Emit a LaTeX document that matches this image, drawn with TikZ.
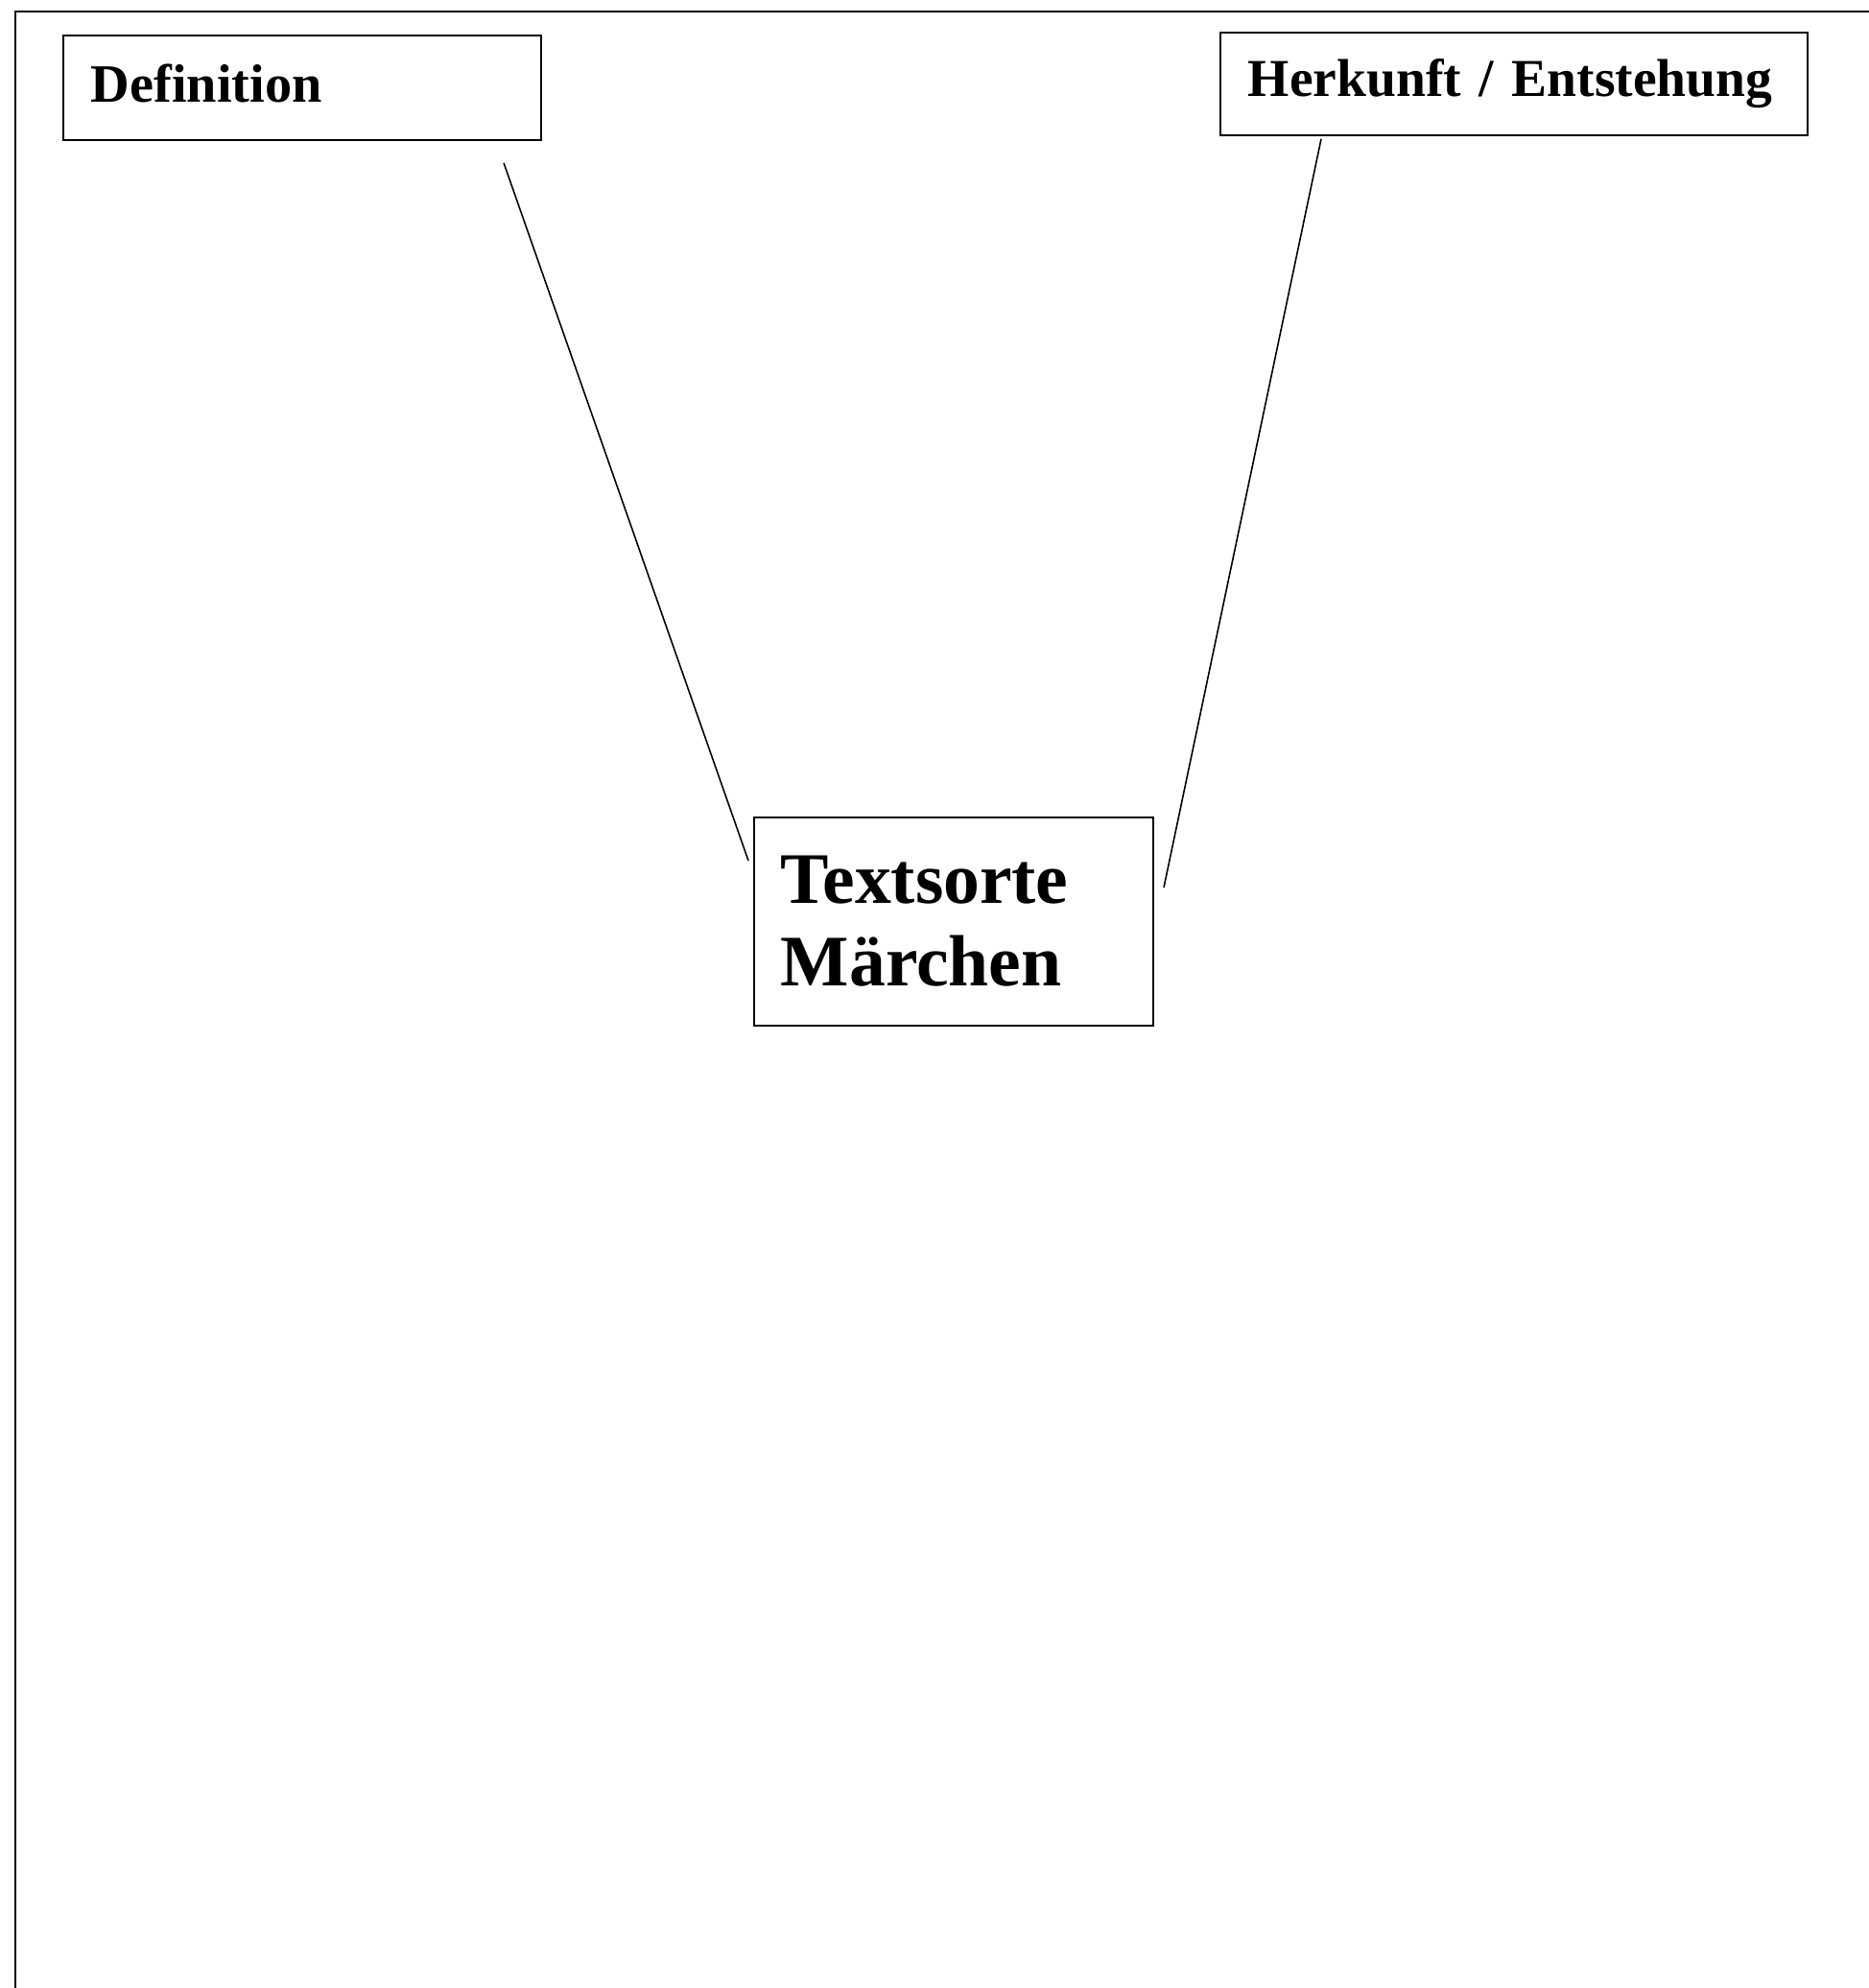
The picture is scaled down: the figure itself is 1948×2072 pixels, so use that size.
\documentclass[tikz,border=0pt]{standalone}
\usepackage{fontspec}
\setmainfont{Liberation Serif}
\usetikzlibrary{calc}
\begin{document}
\begin{tikzpicture}[
    x=0.01cm, y=-0.01cm,
    topic/.style={draw, line width=0.5pt, anchor=north west, align=left,
                  inner xsep=0.29cm, inner ysep=0pt,
                  font=\bfseries\fontsize{16}{19}\selectfont},
    mainbox/.style={draw, line width=0.5pt, anchor=north west, align=left,
                  inner xsep=0.28cm, inner ysep=0pt,
                  font=\bfseries\fontsize{21.5}{24.5}\selectfont},
    link/.style={line width=0.45pt}
]

\useasboundingbox (0,0) rectangle (1948,2072);
% page frame (only left and top edge visible)
\draw[line width=0.7pt] (16,2072) -- (16,12) -- (1948,12);

\node[topic, text width=4.4cm, minimum height=1.09cm, text depth=2.5pt] (def) at (65,36) {Definition};
\node[topic, text width=5.54cm, minimum height=1.07cm,
      font=\bfseries\fontsize{15.8}{19}\selectfont] (herk) at (1271,33) {Herkunft / Entstehung};
\node[mainbox, text width=3.6cm, minimum height=2.17cm] (maerchen) at (785,851) {Textsorte\\Märchen};

\draw[link] ($(def.south east)+(-40,23)$) -- ($(maerchen.north west)+(-5,46)$);
\draw[link] ($(herk.south west)+(106,3)$) -- ($(maerchen.north east)+(10,74)$);

\end{tikzpicture}
\end{document}
